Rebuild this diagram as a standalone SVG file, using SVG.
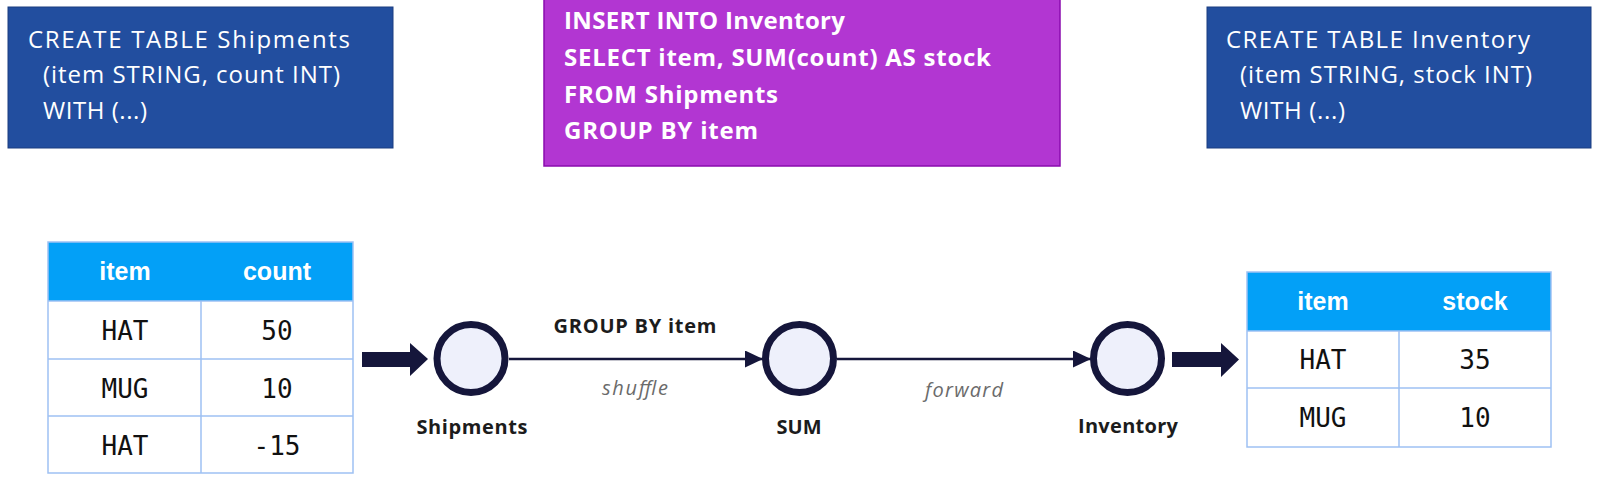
<svg xmlns="http://www.w3.org/2000/svg" width="1598" height="478" viewBox="0 0 1598 478">
<style>
.bg{fill:#ffffff}
.ddl{fill:#224e9f;stroke:#1a3d80;stroke-width:1}
.ddlt{font-family:"Open Sans","Noto Sans",sans-serif;font-size:24px;fill:#ffffff}
.sql{fill:#b236d2;stroke:#8a0cae;stroke-width:1.5}
.sqlt{font-family:"Open Sans","Noto Sans",sans-serif;font-weight:700;font-size:24px;fill:#ffffff}
.hdr{fill:#03a0f7}
.cell{fill:#ffffff}
.grid{fill:none;stroke:#9ec1f3;stroke-width:1.5}
.ht{font-family:"Liberation Sans",Arial,sans-serif;font-weight:700;font-size:25px;fill:#ffffff;text-anchor:middle}
.dt{font-family:"DejaVu Sans Mono","Liberation Mono",monospace;font-size:26px;fill:#111111;text-anchor:middle}
.node{fill:#eef0fb;stroke:#15163b;stroke-width:7}
.nl{font-family:"Open Sans","Noto Sans",sans-serif;font-weight:700;font-size:20px;fill:#1c1c1c;text-anchor:middle}
.el{font-family:"Open Sans","Noto Sans",sans-serif;font-style:italic;font-size:20px;fill:#6b6b6b;text-anchor:middle}
.eb{font-family:"Open Sans","Noto Sans",sans-serif;font-weight:700;font-size:20px;fill:#1c1c1c;text-anchor:middle}
.edge{stroke:#15163b;stroke-width:2.5;fill:none}
.big{fill:#15163b}
</style>
<defs>
<marker id="ah" viewBox="0 0 18 17" refX="18" refY="8.5" markerWidth="18" markerHeight="17" markerUnits="userSpaceOnUse" orient="auto">
<path d="M0,0 L18,8.5 L0,17 Z" fill="#15163b"/>
</marker>
</defs>
<rect class="bg" x="0" y="0" width="1598" height="478"/>

<g id="ddl-shipments">
<rect class="ddl" x="8" y="7" width="385" height="141"/>
<text class="ddlt" x="28" y="48" textLength="322">CREATE TABLE Shipments</text>
<text class="ddlt" x="43" y="83" textLength="297">(item STRING, count INT)</text>
<text class="ddlt" x="43" y="119" textLength="104">WITH (...)</text>
</g>

<g id="sql-query">
<rect class="sql" x="544" y="-2" width="516" height="168"/>
<text class="sqlt" x="564" y="29" textLength="281">INSERT INTO Inventory</text>
<text class="sqlt" x="564" y="66" textLength="427">SELECT item, SUM(count) AS stock</text>
<text class="sqlt" x="564" y="103" textLength="214">FROM Shipments</text>
<text class="sqlt" x="564" y="139" textLength="194">GROUP BY item</text>
</g>

<g id="ddl-inventory">
<rect class="ddl" x="1207" y="7" width="384" height="141"/>
<text class="ddlt" x="1226" y="48" textLength="304">CREATE TABLE Inventory</text>
<text class="ddlt" x="1240" y="83" textLength="292">(item STRING, stock INT)</text>
<text class="ddlt" x="1240" y="119" textLength="105">WITH (...)</text>
</g>

<g id="table-shipments">
<rect class="cell" x="48" y="242" width="305" height="231"/>
<rect class="hdr" x="48" y="242" width="305" height="59"/>
<rect class="grid" x="48" y="242" width="305" height="231"/>
<path class="grid" d="M48,301 H353 M48,359 H353 M48,416 H353 M201,301 V473"/>
<text class="ht" x="125" y="280">item</text>
<text class="ht" x="277" y="280">count</text>
<text class="dt" x="125" y="340">HAT</text>
<text class="dt" x="277" y="340">50</text>
<text class="dt" x="125" y="398">MUG</text>
<text class="dt" x="277" y="398">10</text>
<text class="dt" x="125" y="455">HAT</text>
<text class="dt" x="277" y="455">-15</text>
</g>

<g id="table-inventory">
<rect class="cell" x="1247" y="272" width="304" height="175"/>
<rect class="hdr" x="1247" y="272" width="304" height="59"/>
<rect class="grid" x="1247" y="272" width="304" height="175"/>
<path class="grid" d="M1247,331 H1551 M1247,388 H1551 M1399,331 V447"/>
<text class="ht" x="1323" y="310">item</text>
<text class="ht" x="1475" y="310">stock</text>
<text class="dt" x="1323" y="369">HAT</text>
<text class="dt" x="1475" y="369">35</text>
<text class="dt" x="1323" y="427">MUG</text>
<text class="dt" x="1475" y="427">10</text>
</g>

<g id="connectors">
<path class="big" d="M362,352 H410 V343 L428,359 L410,376 V367 H362 Z"/>
<line class="edge" x1="509" y1="359" x2="763" y2="359" marker-end="url(#ah)"/>
<line class="edge" x1="837" y1="359" x2="1091" y2="359" marker-end="url(#ah)"/>
<path class="big" d="M1172,352 H1221 V343 L1239,359.5 L1221,377 V367 H1172 Z"/>
<text class="eb" x="635" y="333" textLength="163">GROUP BY item</text>
<text class="el" x="635" y="395" textLength="66">shuffle</text>
<text class="el" x="964" y="397" textLength="78">forward</text>
</g>

<g id="node-shipments">
<circle class="node" cx="471" cy="358.5" r="34"/>
<text class="nl" x="472" y="434" textLength="111">Shipments</text>
</g>
<g id="node-sum">
<circle class="node" cx="799.5" cy="358.5" r="34"/>
<text class="nl" x="799" y="434">SUM</text>
</g>
<g id="node-inventory">
<circle class="node" cx="1127.5" cy="358.5" r="34"/>
<text class="nl" x="1128" y="433" textLength="100">Inventory</text>
</g>
</svg>
